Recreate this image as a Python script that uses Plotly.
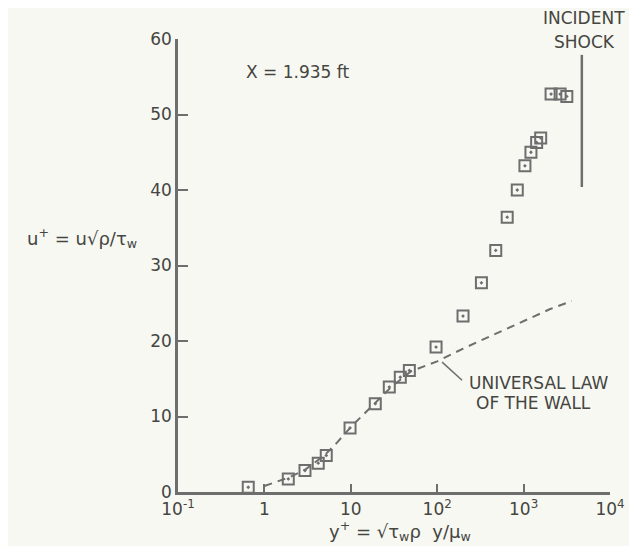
import plotly.graph_objects as go

# Measured data (y+, u+)
y_plus = [0.65, 1.89, 2.95, 4.2, 5.2, 9.8, 19.2, 27.9, 37.4, 47.6, 97, 199, 325,
          476, 646, 845, 1036, 1216, 1416, 1577, 2080, 2645, 3163]
u_plus = [0.63, 1.73, 2.84, 3.82, 4.84, 8.49, 11.7, 13.9, 15.2, 16.1, 19.2, 23.3, 27.7,
          32.0, 36.4, 40.0, 43.2, 45.0, 46.3, 46.9, 52.7, 52.7, 52.4]

# Universal law of the wall (dashed curve)
law_y = [1.0, 2.0, 3.0, 5.0, 7.0, 10, 15, 20, 30, 50, 100, 200, 500, 1000, 2000, 3600]
law_u = [0.8, 2.0, 3.0, 4.9, 6.6, 8.6, 10.6, 12.0, 14.0, 16.0, 17.3, 19.0, 21.1, 22.6, 24.2, 25.3]

# Incident shock marker
shock_x = [4720, 4720]
shock_u = [40.4, 57.9]

# Leader line for the label
leader_x = [114, 194]
leader_u = [17.2, 14.8]

x_tickvals = [0.1, 1, 10, 100, 1000, 10000]
x_ticktext = ["10<sup>-1</sup>", "1", "10", "10<sup>2</sup>", "10<sup>3</sup>", "10<sup>4</sup>"]
y_tickvals = [0, 10, 20, 30, 40, 50, 60]

ink = "#6e6e6e"
txt = "#454541"
font = "DejaVu Sans"

fig = go.Figure()
fig.add_trace(go.Scatter(x=law_y, y=law_u, mode="lines",
                         line=dict(color=ink, width=2, dash="8px,6px"), hoverinfo="skip"))
fig.add_trace(go.Scatter(x=leader_x, y=leader_u, mode="lines",
                         line=dict(color=ink, width=1.5), hoverinfo="skip"))
fig.add_trace(go.Scatter(x=shock_x, y=shock_u, mode="lines",
                         line=dict(color=ink, width=2.5), hoverinfo="skip"))
fig.add_trace(go.Scatter(x=y_plus, y=u_plus, mode="markers",
                         marker=dict(symbol="square-open-dot", size=11, color=ink,
                                     line=dict(width=2, color=ink))))

def px(x):
    return (x - 176) / 432

def py(y):
    return (492 - y) / 453

annotations = [
    dict(x=px(295), y=py(72), text="X = 1.935 ft", font=dict(size=17)),
    dict(x=px(582), y=py(18), text="INCIDENT", font=dict(size=17)),
    dict(x=px(582), y=py(42), text="SHOCK", font=dict(size=17)),
    dict(x=px(465), y=py(383), text="UNIVERSAL LAW", xanchor="left", font=dict(size=17)),
    dict(x=px(472), y=py(403), text="OF THE WALL", xanchor="left", font=dict(size=17)),
    dict(x=px(80), y=py(238), text="u<sup>+</sup> = u√ρ/τ<sub>w</sub>", font=dict(size=18)),
    dict(x=px(398), y=py(531), text="y<sup>+</sup> = √τ<sub>w</sub>ρ  y/μ<sub>w</sub>", font=dict(size=18)),
]
for a in annotations:
    a.update(xref="paper", yref="paper", showarrow=False, yanchor="middle")
    a.setdefault("xanchor", "center")
    a["font"].update(family=font, color=txt)

fig.update_layout(
    width=637, height=546,
    margin=dict(l=170, r=35, t=31, b=62),
    paper_bgcolor="#f7f8f2", plot_bgcolor="#f7f8f2",
    showlegend=False,
    font=dict(family=font, color=txt, size=17),
    annotations=annotations,
    xaxis=dict(type="log", range=[-1, 4], tickvals=x_tickvals, ticktext=x_ticktext,
               showgrid=False, zeroline=False, showline=True, linecolor=ink, linewidth=2.5,
               ticks="inside", ticklen=8, tickwidth=2, tickcolor=ink,
               tickfont=dict(size=17, color=txt)),
    yaxis=dict(range=[0, 60], tickvals=y_tickvals,
               showgrid=False, zeroline=False, showline=True, linecolor=ink, linewidth=2.5,
               ticks="inside", ticklen=10, tickwidth=2, tickcolor=ink,
               tickfont=dict(size=17, color=txt)),
)

fig.write_html("out.html")
